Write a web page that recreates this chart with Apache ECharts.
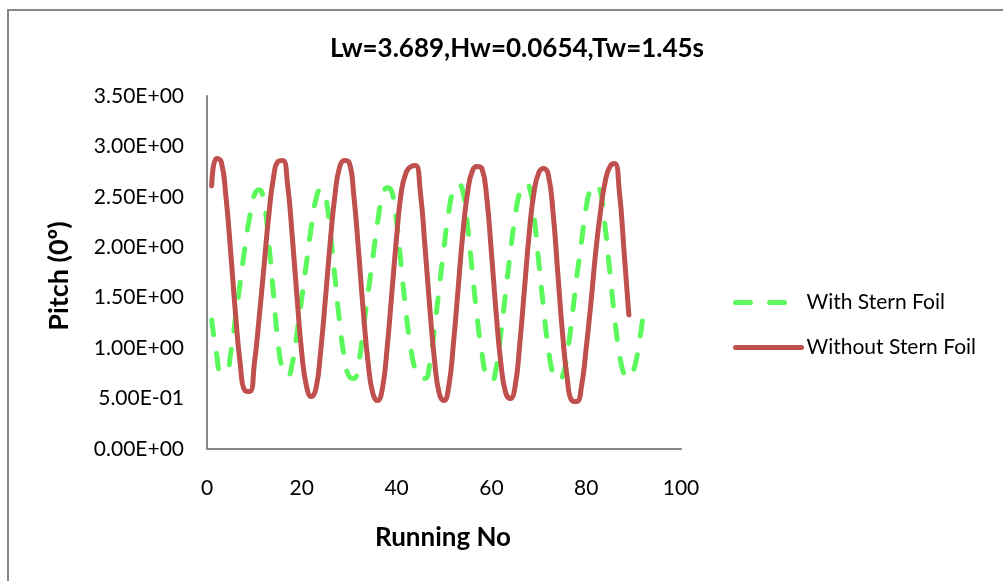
<!DOCTYPE html>
<html>
<head>
<meta charset="utf-8">
<script src="https://cdn.jsdelivr.net/npm/echarts@6/dist/echarts.min.js"></script>
<style>
  html, body { margin: 0; padding: 0; background: #fff; }
  #chart { width: 1003px; height: 581px; }
</style>
</head>
<body>
<div id="chart"></div>
<script>
// Pitch readings per run (run numbers start at 1)
const withSternFoil = [
  1.28, 0.95, 0.76, 0.76, 0.95, 1.30, 1.65, 2.00, 2.30, 2.52,
  2.57, 2.45, 2.05, 1.55, 1.05, 0.78, 0.72, 0.85, 1.15, 1.50,
  1.85, 2.20, 2.48, 2.58, 2.50, 2.15, 1.70, 1.25, 0.90, 0.72,
  0.70, 0.85, 1.20, 1.55, 1.90, 2.25, 2.50, 2.59, 2.55, 2.25,
  1.80, 1.35, 1.00, 0.78, 0.70, 0.70, 0.85, 1.20, 1.60, 2.00,
  2.35, 2.57, 2.63, 2.55, 2.20, 1.75, 1.30, 0.95, 0.72, 0.67,
  0.80, 1.15, 1.55, 1.95, 2.30, 2.55, 2.63, 2.60, 2.30, 1.85,
  1.40, 1.00, 0.75, 0.68, 0.72, 0.95, 1.30, 1.70, 2.05, 2.40,
  2.58, 2.62, 2.55, 2.20, 1.75, 1.30, 0.95, 0.74, 0.70, 0.78,
  1.00, 1.33
];
const withoutSternFoil = [
  2.61, 2.88, 2.85, 2.50, 1.95, 1.35, 0.85, 0.58, 0.57, 0.85,
  1.30, 1.80, 2.30, 2.68, 2.85, 2.86, 2.62, 2.10, 1.50, 0.95,
  0.62, 0.52, 0.60, 0.98, 1.50, 2.05, 2.52, 2.80, 2.86, 2.84,
  2.50, 1.95, 1.35, 0.85, 0.55, 0.48, 0.60, 1.00, 1.55, 2.10,
  2.55, 2.74, 2.80, 2.81, 2.55, 2.00, 1.40, 0.88, 0.55, 0.48,
  0.62, 1.05, 1.60, 2.15, 2.55, 2.76, 2.80, 2.78, 2.50, 1.95,
  1.35, 0.85, 0.56, 0.50, 0.62, 1.05, 1.60, 2.15, 2.55, 2.74,
  2.78, 2.72, 2.35, 1.75, 1.15, 0.70, 0.48, 0.47, 0.62, 1.00,
  1.45, 1.95, 2.35, 2.65, 2.80, 2.83, 2.55, 1.95, 1.33
];
const seriesNames = ['With Stern Foil', 'Without Stern Foil'];
const titleText = 'Lw=3.689,Hw=0.0654,Tw=1.45s';
const xAxisName = 'Running No';
const yAxisName = 'Pitch (0º)';

const FONT = 'Lato, "Open Sans", sans-serif';
const GREEN = '#5CF95C';
const RED = '#C0504D';

// Excel-style scientific tick labels, e.g. 5.00E-01
function sci(v) {
  if (v === 0) return '0.00E+00';
  const [m, e] = v.toExponential(2).split('e');
  const n = parseInt(e, 10);
  return m + 'E' + (n < 0 ? '-' : '+') + String(Math.abs(n)).padStart(2, '0');
}

const toPoints = arr => arr.map((v, i) => [i + 1, v]);

const chart = echarts.init(document.getElementById('chart'));
chart.setOption({
  backgroundColor: '#ffffff',
  animation: false,
  title: {
    text: titleText,
    left: 512, textAlign: 'center', top: 31,
    textStyle: { fontFamily: FONT, fontSize: 26, fontWeight: 'bold', color: '#000' }
  },
  graphic: [{
    type: 'rect',
    shape: { x: 8, y: 10, width: 1010, height: 600 },
    style: { fill: 'none', stroke: '#878787', lineWidth: 2 },
    silent: true
  }, {
    type: 'text',
    x: 443, y: 538,
    style: { text: xAxisName, fontFamily: FONT, fontSize: 26, fontWeight: 'bold', fill: '#000', align: 'center', verticalAlign: 'middle' }
  }, {
    type: 'text',
    x: 59, y: 276, rotation: Math.PI / 2,
    style: { text: yAxisName, fontFamily: FONT, fontSize: 27, fontWeight: 'bold', fill: '#000', align: 'center', verticalAlign: 'middle' }
  }],
  legend: {
    orient: 'vertical',
    left: 728, top: 287,
    itemWidth: 66, itemHeight: 14, itemGap: 24,
    itemStyle: { opacity: 0 },
    lineStyle: { width: 5 },
    textStyle: { fontFamily: FONT, fontSize: 21, color: '#000' },
    data: seriesNames
  },
  grid: { left: 207, right: 322, top: 96, bottom: 132, containLabel: false },
  xAxis: {
    type: 'value', min: 0, max: 100, interval: 20,
    axisLine: { show: true, lineStyle: { color: '#868686', width: 2 } },
    axisTick: { show: false },
    splitLine: { show: false },
    axisLabel: { margin: 29, fontFamily: FONT, fontSize: 21, color: '#000' }
  },
  yAxis: {
    type: 'value', min: 0, max: 3.5, interval: 0.5,
    axisLine: { show: true, lineStyle: { color: '#868686', width: 2 } },
    axisTick: { show: false },
    splitLine: { show: false },
    axisLabel: { margin: 23, fontFamily: FONT, fontSize: 21, color: '#000', formatter: sci }
  },
  series: [{
    name: seriesNames[0],
    type: 'line',
    data: toPoints(withSternFoil),
    smooth: 0.5,
    showSymbol: false, symbol: 'none',
    lineStyle: { color: GREEN, width: 5, type: [15, 19], cap: 'round' },
    itemStyle: { color: GREEN },
    z: 2
  }, {
    name: seriesNames[1],
    type: 'line',
    data: toPoints(withoutSternFoil),
    smooth: 0.5,
    showSymbol: false, symbol: 'none',
    lineStyle: { color: RED, width: 5, cap: 'round' },
    itemStyle: { color: RED },
    z: 3
  }]
});
</script>
</body>
</html>
